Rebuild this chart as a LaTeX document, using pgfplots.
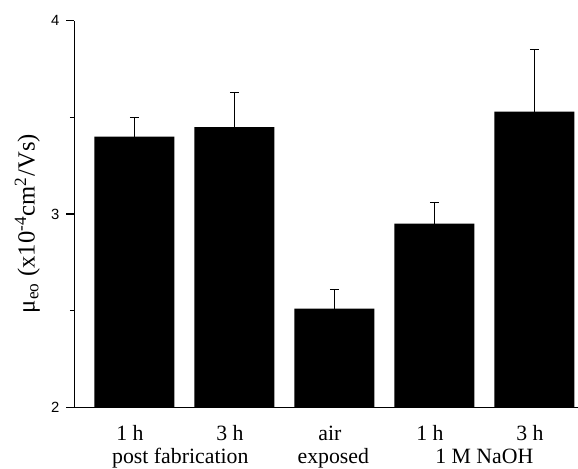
\documentclass[border=0pt]{standalone}
\usepackage{fontspec}
\setmainfont{Liberation Serif}
\setsansfont{Liberation Sans}
\usepackage{pgfplots}
\usepackage{pgfplotstable}
\pgfplotsset{compat=1.18}
\pgfplotstableread{
x y err
0 3.40 0.10
1 3.45 0.18
2 2.51 0.10
3 2.95 0.11
4 3.53 0.32
}\datatable
\begin{document}
\begin{tikzpicture}
\useasboundingbox (0,0) rectangle (289pt,234.5pt);
\begin{axis}[
  at={(37.15pt,30.85pt)}, anchor=south west,
  scale only axis, width=251.85pt, height=193.3pt,
  xmin=-0.6, xmax=4.437, ymin=2, ymax=4,
  axis x line=bottom, axis y line=left,
  axis line style={-, line width=0.65pt},
  xtick={0,1,2,3,4},
  xticklabels={1 h,3 h,air,1 h,3 h},
  x tick style={draw=none},
  xticklabel style={anchor=base, yshift=-12.85pt, xshift=-2.2pt, font=\fontsize{10.9}{13}\selectfont},
  ytick={2,3,4}, minor ytick={2.5,3.5},
  tick align=outside,
  major tick length=4pt, minor tick length=2.2pt,
  y tick style={line width=0.6pt, black},
  yticklabel style={font=\sffamily\fontsize{7.4}{8}\selectfont},
  /pgf/number format/assume math mode=true,
  ylabel={μ\textsubscript{eo} (x10\textsuperscript{-4}cm\textsuperscript{2}/Vs)},
  ylabel style={at={(axis description cs:-0.0933,0.475)}, anchor=center, font=\fontsize{12.3}{14}\selectfont},
  clip=false,
]
\addplot[ybar, bar width=40pt, fill=black, draw=none,
  error bars/.cd, y dir=plus, y explicit,
  error bar style={line width=0.65pt, black},
  error mark options={rotate=90, mark size=2.25pt, line width=0.65pt, black}]
  table[x=x, y=y, y error=err] {\datatable};
\node[anchor=base, font=\fontsize{10.9}{13}\selectfont] at (axis cs:0.46,2) [yshift=-28.35pt] {post fabrication};
\node[anchor=base, font=\fontsize{10.9}{13}\selectfont] at (axis cs:1.99,2) [yshift=-28.35pt] {exposed};
\node[anchor=base, font=\fontsize{10.9}{13}\selectfont] at (axis cs:3.5,2) [yshift=-28.35pt] {1 M NaOH};
\end{axis}
\end{tikzpicture}
\end{document}
